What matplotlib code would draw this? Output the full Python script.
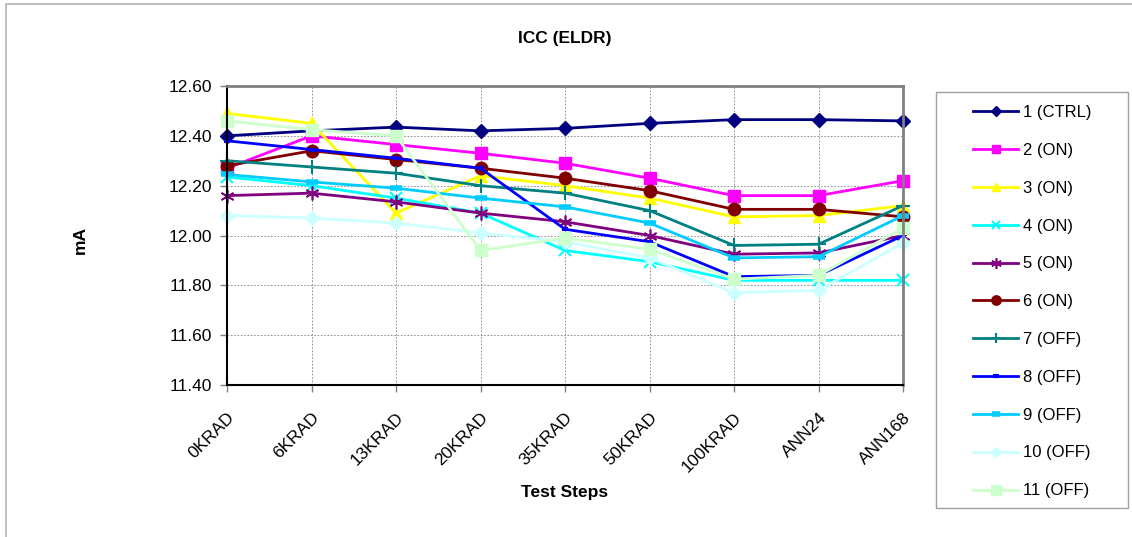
import matplotlib
matplotlib.use('Agg')
import matplotlib.pyplot as plt
from matplotlib.patches import Rectangle

plt.rcParams['font.family'] = ['Liberation Sans', 'DejaVu Sans']

# test steps on the x axis
steps = ['0KRAD', '6KRAD', '13KRAD', '20KRAD', '35KRAD', '50KRAD',
         '100KRAD', 'ANN24', 'ANN168']

# ICC in mA, one list per device
dev1 = [12.40, 12.42, 12.435, 12.42, 12.43, 12.45, 12.465, 12.465, 12.46]
dev2 = [12.27, 12.40, 12.365, 12.33, 12.29, 12.23, 12.16, 12.16, 12.22]
dev3 = [12.49, 12.45, 12.09, 12.24, 12.20, 12.15, 12.075, 12.08, 12.12]
dev4 = [12.235, 12.20, 12.15, 12.09, 11.94, 11.895, 11.82, 11.82, 11.82]
dev5 = [12.16, 12.17, 12.135, 12.09, 12.055, 12.00, 11.925, 11.93, 12.00]
dev6 = [12.28, 12.34, 12.305, 12.27, 12.23, 12.18, 12.105, 12.105, 12.075]
dev7 = [12.30, 12.275, 12.25, 12.20, 12.17, 12.10, 11.96, 11.965, 12.12]
dev8 = [12.38, 12.345, 12.31, 12.27, 12.025, 11.975, 11.835, 11.84, 12.00]
dev9 = [12.245, 12.215, 12.19, 12.15, 12.115, 12.05, 11.91, 11.915, 12.08]
dev10 = [12.08, 12.07, 12.05, 12.01, 11.975, 11.91, 11.77, 11.78, 11.97]
dev11 = [12.46, 12.425, 12.40, 11.94, 11.99, 11.945, 11.825, 11.84, 12.03]

labels = ['1 (CTRL)', '2 (ON)', '3 (ON)', '4 (ON)', '5 (ON)', '6 (ON)',
          '7 (OFF)', '8 (OFF)', '9 (OFF)', '10 (OFF)', '11 (OFF)']

W, H = 1132, 537
fig = plt.figure(figsize=(W / 100, H / 100), dpi=100)

# outer chart border
fig.patches.append(Rectangle((6 / W, -0.01), 1.2, 1 - 4 / H + 0.01,
                             transform=fig.transFigure, fill=False,
                             edgecolor='#b4b4b4', linewidth=1.2))

ax = fig.add_axes([227 / W, 1 - 385 / H, (903 - 227) / W, (385 - 86) / H])

styles = [
    (dev1, '#000080', 'D', 7, 1.0),
    (dev2, '#ff00ff', 's', 8, 1.0),
    (dev3, '#ffff00', '^', 8, 1.0),
    (dev4, '#00ffff', 'x', 8, 1.5),
    (dev5, '#800080', (6, 2, 0), 10, 1.2),
    (dev6, '#800000', 'o', 9, 1.0),
    (dev7, '#008080', '+', 10, 1.5),
    (dev8, '#0000ff', '_', 5, 3.0),
    (dev9, '#00ccff', '_', 8, 4.0),
    (dev10, '#ccffff', 'D', 7, 1.0),
    (dev11, '#ccffcc', 's', 9, 1.0),
]

x = list(range(len(steps)))
for (vals, col, mk, ms, mew), lab in zip(styles, labels):
    ax.plot(x, vals, color=col, marker=mk, markersize=ms, markeredgewidth=mew,
            markerfacecolor=col, markeredgecolor=col, linewidth=2.0,
            label=lab, clip_on=False)

ax.set_xlim(0, len(steps) - 1)
ax.set_ylim(11.40, 12.60)
ax.set_yticks([11.40, 11.60, 11.80, 12.00, 12.20, 12.40, 12.60])
ax.set_yticklabels(['%.2f' % v for v in ax.get_yticks()], fontsize=12.5)
ax.set_xticks(x)
ax.set_xticklabels(steps, rotation=45, ha='right', rotation_mode='anchor',
                   fontsize=12.5)
ax.tick_params(axis='y', direction='out', length=5, width=1, color='#808080', pad=6)
ax.tick_params(axis='x', direction='out', length=5, width=1, color='#808080', pad=13)

ax.grid(True, color='#808080', linestyle=(0, (2, 2)), linewidth=0.6)
ax.set_axisbelow(True)

for side in ['top', 'right']:
    ax.spines[side].set_color('#808080')
    ax.spines[side].set_linewidth(2)
for side in ['left', 'bottom']:
    ax.spines[side].set_color('black')
    ax.spines[side].set_linewidth(1.5)

fig.text(565 / W, 1 - 38 / H, 'ICC (ELDR)', ha='center', va='center',
         fontsize=12.5, fontweight='bold')
fig.text(565 / W, 1 - 493 / H, 'Test Steps', ha='center', va='center',
         fontsize=12.5, fontweight='bold')
fig.text(80 / W, 1 - 240 / H, 'mA', ha='center', va='center', rotation=90,
         fontsize=12.5, fontweight='bold')

# legend frame drawn by hand
fig.patches.append(Rectangle((936 / W, 1 - 508 / H), (1128 - 936) / W, (508 - 92) / H,
                             transform=fig.transFigure, fill=False,
                             edgecolor='#a0a0a0', linewidth=1.0))
leg = ax.legend(loc='upper left', bbox_to_anchor=(973 / W, 1 - 105 / H),
                bbox_transform=fig.transFigure, frameon=False, fontsize=12,
                handlelength=2.7, handletextpad=0.3, labelspacing=1.37,
                borderpad=0, borderaxespad=0, markerscale=0.75)

fig.savefig('out.png', dpi=100)
